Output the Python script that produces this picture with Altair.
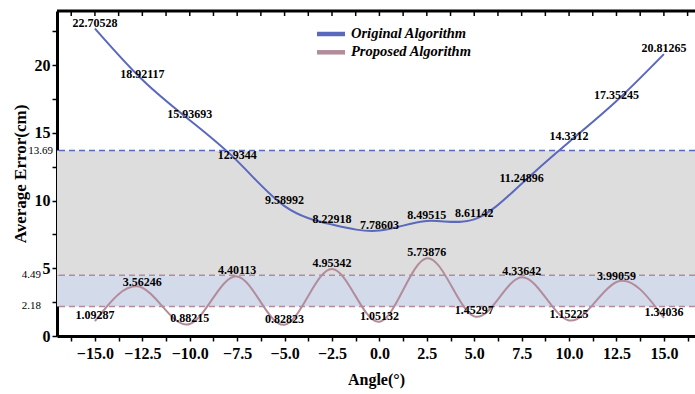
import altair as alt
import pandas as pd

# Error curves sampled every 2.5 degrees
angles = [-15.0, -12.5, -10.0, -7.5, -5.0, -2.5, 0.0, 2.5, 5.0, 7.5, 10.0, 12.5, 15.0]
original_error = [22.70528, 18.92117, 15.93693, 12.9344, 9.58992, 8.22918, 7.78603,
                  8.49515, 8.61142, 11.24896, 14.3312, 17.35245, 20.81265]
proposed_error = [1.09287, 3.56246, 0.88215, 4.40113, 0.82823, 4.95342, 1.05132,
                  5.73876, 1.45297, 4.33642, 1.15225, 3.99059, 1.34036]
series_names = ["Original Algorithm", "Proposed Algorithm"]
series_colors = ["#5a68bd", "#b38c9c"]

# Reference levels (mean error bands)
band_limits = [2.18, 4.49, 13.69]
band_labels = ["2.18", "4.49", "13.69"]
band_fills = ["#d3dbeb", "#dddddd"]
band_line_colors = ["#b38c9c", "#b38c9c", "#5a68bd"]

x_ticks = [-16.25, -15.0, -13.75, -12.5, -11.25, -10.0, -8.75, -7.5, -6.25, -5.0, -3.75,
           -2.5, -1.25, 0.0, 1.25, 2.5, 3.75, 5.0, 6.25, 7.5, 8.75, 10.0, 11.25, 12.5,
           13.75, 15.0, 16.25]
y_ticks = [0, 2.5, 5, 7.5, 10, 12.5, 15, 17.5, 20, 22.5]

W, H = 638, 325
FONT = "Liberation Serif"

x_scale = alt.Scale(domain=[-17, 16.64], nice=False, zero=False)
y_scale = alt.Scale(domain=[0, 24], nice=False, zero=False)
x_axis = alt.Axis(
    values=x_ticks,
    labelExpr="abs(datum.value) <= 15 && abs(datum.value % 2.5) < 0.001 ? format(datum.value, '.1f') : ''",
    labelPadding=4, titlePadding=10,
)
y_axis = alt.Axis(
    values=y_ticks,
    labelExpr="datum.value % 5 == 0 ? format(datum.value, 'd') : ''",
    labelPadding=2, titlePadding=5,
)
X_TITLE = "Angle(°)"
Y_TITLE = "Average Error(cm)"


def xq(field):
    return alt.X(field, type="quantitative", scale=x_scale, axis=x_axis, title=X_TITLE)


def yq(field):
    return alt.Y(field, type="quantitative", scale=y_scale, axis=y_axis, title=Y_TITLE)


curves = pd.DataFrame({
    "angle": angles * 2,
    "error": original_error + proposed_error,
    "series": [series_names[0]] * len(angles) + [series_names[1]] * len(angles),
})
curves["label"] = [str(v) for v in curves["error"]]

bands = pd.DataFrame({"lo": band_limits[:2], "hi": band_limits[1:], "fill": band_fills})
levels = pd.DataFrame({"level": band_limits, "stroke": band_line_colors, "text": band_labels})
ticks_df = pd.DataFrame({"t": x_ticks})

line_layer = alt.Chart(curves).mark_line(interpolate="natural", strokeWidth=2).encode(
    x=xq("angle"),
    y=yq("error"),
    color=alt.Color("series:N", scale=alt.Scale(domain=series_names, range=series_colors), legend=None),
    detail="series:N",
)

band_layer = alt.Chart(bands).mark_rect().encode(
    x=alt.value(0), x2=alt.value(W),
    y=yq("lo"), y2="hi:Q",
    color=alt.Color("fill:N", scale=None),
)

level_layer = alt.Chart(levels).mark_rule(strokeDash=[6, 4], strokeWidth=1.5).encode(
    y=yq("level"),
    color=alt.Color("stroke:N", scale=None),
)

label_layer = alt.Chart(curves).mark_text(
    font=FONT, fontSize=12, fontWeight="bold", color="black",
    align="center", baseline="middle", dy=-6,
).encode(
    x=xq("angle"),
    y=yq("error"),
    text="label:N",
)

# frame line along the top with inward ticks
top_border = alt.Chart(pd.DataFrame({"k": [0]})).mark_rule(color="black", strokeWidth=3).encode(
    x=alt.value(0), x2=alt.value(W), y=alt.value(0),
)
top_ticks = alt.Chart(ticks_df).mark_rule(color="black", strokeWidth=1.5).encode(
    x=xq("t"), y=alt.value(0), y2=alt.value(5),
)

# level values written beside the y axis (the upper one sits closer to the axis)
level_texts = alt.layer(
    alt.Chart(levels).transform_filter(alt.datum.level < 10).mark_text(
        font=FONT, fontSize=11, color="black", align="right", baseline="middle", dx=-16,
    ).encode(x=alt.value(0), y=yq("level"), text="text:N"),
    alt.Chart(levels).transform_filter(alt.datum.level > 10).mark_text(
        font=FONT, fontSize=11, color="black", align="right", baseline="middle", dx=-4,
    ).encode(x=alt.value(0), y=yq("level"), text="text:N"),
)

# legend
legend_layers = []
for i, (name, col) in enumerate(zip(series_names, series_colors)):
    ypos = 23 + 18.3 * i
    legend_layers.append(
        alt.Chart(pd.DataFrame({"s": [name]})).mark_rule(color=col, strokeWidth=4.5).encode(
            x=alt.value(260), x2=alt.value(288), y=alt.value(ypos),
        )
    )
    legend_layers.append(
        alt.Chart(pd.DataFrame({"s": [name]})).mark_text(
            font=FONT, fontSize=14.5, fontWeight="bold", fontStyle="italic",
            color="black", align="left", baseline="middle",
        ).encode(x=alt.value(294), y=alt.value(ypos), text="s:N")
    )

chart = alt.layer(
    band_layer, level_layer, line_layer, label_layer, top_border, top_ticks,
    level_texts, *legend_layers,
).properties(
    width=W, height=H,
    autosize=alt.AutoSizeParams(type="none"),
    padding={"left": 57, "top": 11, "right": 0, "bottom": 58},
).configure_view(
    stroke=None,
).configure_axis(
    grid=False,
    domainColor="black", domainWidth=3,
    tickColor="black", tickWidth=1.5, tickSize=5,
    labelFont=FONT, labelFontSize=16, labelFontWeight="bold", labelColor="black",
    labelOverlap=False, labelFlush=False,
    titleFont=FONT, titleFontSize=16, titleFontWeight="bold", titleColor="black",
    zindex=1,
).configure_axisY(
    titleFontSize=17,
)

chart.save("out.html", embed_options={"renderer": "svg", "actions": False})
